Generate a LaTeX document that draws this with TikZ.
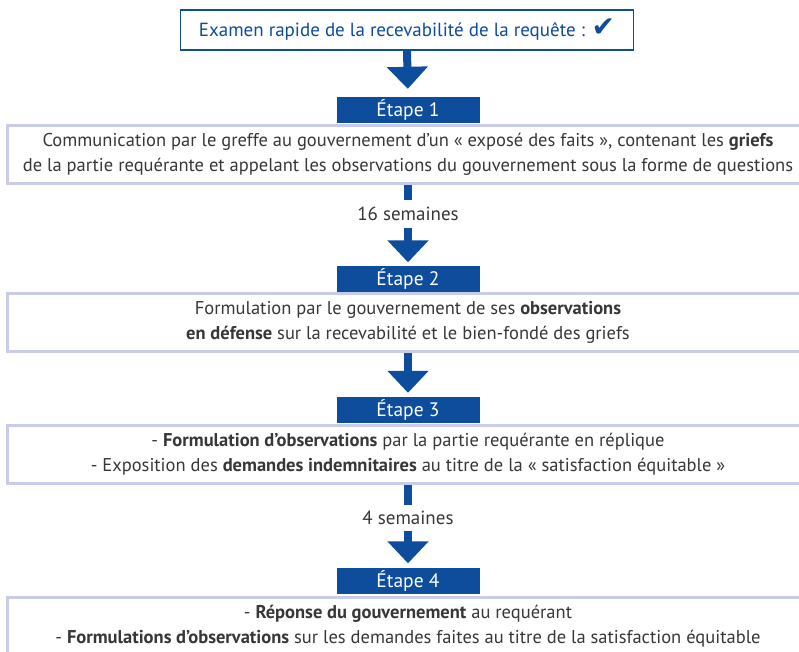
\documentclass[tikz,border=0pt]{standalone}
\usepackage{fontspec}
\setmainfont{PT Sans}
\newfontfamily\checkfont{DejaVu Sans}
\usetikzlibrary{arrows.meta}

\definecolor{etapeblue}{RGB}{14,76,156}
\definecolor{boxlav}{RGB}{200,204,232}
\definecolor{textgrey}{RGB}{55,55,55}

\tikzset{
  examen/.style={draw=etapeblue, line width=1.5pt, text=etapeblue, minimum width=453pt, minimum height=40pt, inner sep=0pt, font=\fontsize{19}{22}\selectfont},
  etape/.style={fill=etapeblue, text=white, minimum width=143pt, minimum height=26pt, inner sep=0pt, font=\fontsize{19.5}{22}\selectfont},
  stepbody/.style={draw=boxlav, line width=3pt, minimum width=802pt, minimum height=58pt, inner sep=0pt, align=center, text=textgrey, font=\fontsize{18.5}{25}\selectfont},
  delay/.style={text=textgrey, inner sep=0pt, minimum height=28pt, font=\fontsize{19}{22}\selectfont},
  stem/.style={draw=etapeblue, line width=8pt},
  bigarrow/.style={draw=etapeblue, line width=8pt, -{Triangle[width=40pt,length=22pt]}},
}

\begin{document}
\begin{tikzpicture}[x=1pt,y=-1pt]
  \clip (0,0) rectangle (799,651);

  % Nodes
  % check of the application
  \node[examen] (exam) at (407,30) {Examen rapide de la recevabilité de la requête~: {\checkfont\fontsize{28}{28}\selectfont ✔}};

  % steps
  \node[etape] (E1) at (408,110) {Étape 1};
  \node[stepbody] (B1) at (408,154) {Communication par le greffe au gouvernement d’un «~exposé des faits~», contenant les \textbf{griefs}\\de la partie requérante et appelant les observations du gouvernement sous la forme de questions};
  \node[delay] (W16) at (408,214) {16 semaines};

  \node[etape] (E2) at (408,278.5) {Étape 2};
  \node[stepbody] (B2) at (408,322.5) {Formulation par le gouvernement de ses \textbf{observations}\\\textbf{en défense} sur la recevabilité et le bien-fondé des griefs};

  \node[etape] (E3) at (408,410) {Étape 3};
  \node[stepbody] (B3) at (408,454.5) {- \textbf{Formulation d’observations} par la partie requérante en réplique\\- Exposition des \textbf{demandes indemnitaires} au titre de la «~satisfaction équitable~»};
  \node[delay, minimum height=25pt] (W4) at (408,518) {4 semaines};

  \node[etape] (E4) at (408,580.5) {Étape 4};
  \node[stepbody] (B4) at (408,626) {- \textbf{Réponse du gouvernement} au requérant\\- \textbf{Formulations d’observations} sur les demandes faites au titre de la satisfaction équitable};

  % arrows
  \draw[bigarrow, shorten >=8pt] (exam.south) -- (E1.north);
  \draw[stem] (B1.south) -- (W16.north);
  \draw[bigarrow, shorten >=3pt] (W16.south) -- (E2.north);
  \draw[bigarrow, shorten >=4pt] (B2.south) -- (E3.north);
  \draw[stem] (B3.south) -- (W4.north);
  \draw[bigarrow, shorten >=4pt] (W4.south) -- (E4.north);
\end{tikzpicture}
\end{document}
